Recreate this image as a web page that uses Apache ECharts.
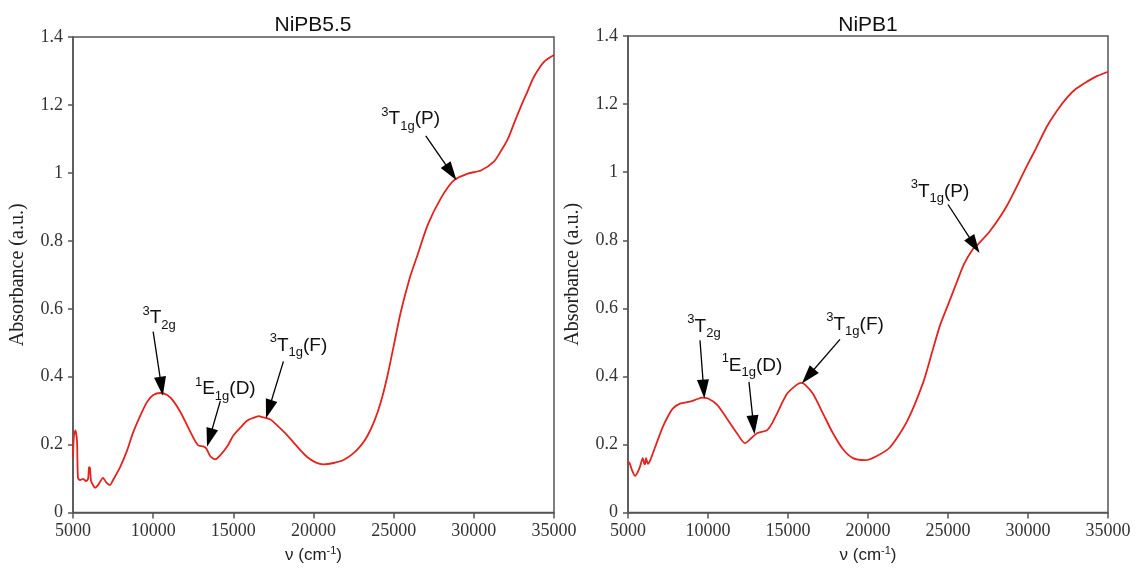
<!DOCTYPE html>
<html>
<head>
<meta charset="utf-8">
<script src="https://cdn.jsdelivr.net/npm/echarts@6/dist/echarts.min.js"></script>
<style>
  html, body { margin: 0; background: #fff; }
  #chart { width: 1136px; height: 569px; }
</style>
</head>
<body>
<div id="chart"></div>
<script>
// NiPB5.5 absorption spectrum (wavenumber cm-1, absorbance)
const nipb55X = [5000, 5060, 5150, 5250, 5310, 5440, 5625, 5810, 5940, 6000, 6060, 6125, 6250, 6375, 6560, 6875, 7060, 7310, 7500, 7940, 8375, 8750, 9190, 9625, 10000, 10440, 10875, 11250, 11690, 12125, 12500, 12810, 13125, 13310, 13560, 13875, 14190, 14625, 15000, 15440, 15875, 16375, 16600, 16810, 17310, 17750, 18250, 18750, 19190, 19625, 20125, 20625, 21250, 21875, 22500, 23000, 23375, 23800, 24190, 24600, 25000, 25440, 26000, 26500, 27125, 27940, 28750, 29625, 30440, 31250, 31700, 32125, 32500, 32940, 33350, 33750, 34375, 35000];
const nipb55Y = [0.163, 0.227, 0.242, 0.21, 0.102, 0.096, 0.099, 0.093, 0.099, 0.134, 0.131, 0.093, 0.081, 0.073, 0.081, 0.102, 0.09, 0.081, 0.096, 0.134, 0.183, 0.236, 0.285, 0.326, 0.346, 0.352, 0.346, 0.329, 0.297, 0.256, 0.221, 0.198, 0.195, 0.189, 0.166, 0.157, 0.169, 0.195, 0.227, 0.25, 0.271, 0.281, 0.284, 0.281, 0.274, 0.256, 0.233, 0.207, 0.183, 0.163, 0.148, 0.142, 0.146, 0.155, 0.175, 0.2, 0.227, 0.27, 0.324, 0.4, 0.49, 0.59, 0.69, 0.76, 0.847, 0.925, 0.978, 0.998, 1.007, 1.033, 1.065, 1.1, 1.145, 1.196, 1.24, 1.283, 1.327, 1.347];

// NiPB1 absorption spectrum
const nipb1X = [5000, 5100, 5250, 5440, 5600, 5750, 5920, 6000, 6060, 6125, 6250, 6400, 6560, 6875, 7190, 7500, 7810, 8250, 8875, 9300, 9625, 10000, 10560, 11190, 11810, 12310, 12625, 13060, 13690, 14000, 14310, 14940, 15560, 15810, 16060, 16560, 17190, 17810, 18440, 19060, 19800, 20500, 21375, 22440, 23440, 24000, 24500, 25000, 25560, 26000, 26560, 26810, 27625, 28690, 29940, 30500, 31190, 31800, 32440, 33000, 33690, 34300, 35000];
const nipb1Y = [0.15, 0.145, 0.125, 0.108, 0.118, 0.135, 0.16, 0.146, 0.142, 0.16, 0.143, 0.155, 0.175, 0.215, 0.253, 0.283, 0.306, 0.32, 0.326, 0.333, 0.338, 0.335, 0.317, 0.276, 0.233, 0.204, 0.215, 0.233, 0.242, 0.262, 0.291, 0.349, 0.376, 0.381, 0.376, 0.349, 0.291, 0.233, 0.186, 0.16, 0.154, 0.165, 0.192, 0.268, 0.381, 0.47, 0.55, 0.61, 0.678, 0.73, 0.774, 0.785, 0.827, 0.902, 1.019, 1.07, 1.135, 1.18, 1.219, 1.245, 1.266, 1.282, 1.295];

// band labels: [superscript, letter, subscript, tail]
const bandNames = [['3', 'T', '2g', ''], ['1', 'E', '1g', '(D)'], ['3', 'T', '1g', '(F)'], ['3', 'T', '1g', '(P)']];
// label anchor and arrow [from, tip] in data coordinates
const labels55 = [[10375, 0.573], [14500, 0.364], [19060, 0.492], [26060, 1.158]];
const arrows55 = [[[10000, 0.533], [10560, 0.358]], [[14190, 0.329], [13440, 0.207]], [[18125, 0.445], [17125, 0.291]], [[27000, 1.109], [28750, 0.99]]];
const labels1 = [[9750, 0.547], [12750, 0.431], [19190, 0.553], [24500, 0.943]];
const arrows1 = [[[9500, 0.506], [9750, 0.349]], [[12560, 0.384], [12875, 0.244]], [[18250, 0.509], [16060, 0.39]], [[25000, 0.905], [26810, 0.774]]];

const titles = ['NiPB5.5', 'NiPB1'];

const serif = "'Liberation Serif', 'Times New Roman', serif";
const sans = "'Liberation Sans', Arial, sans-serif";
const axisColor = '#555';
const headSize = [12, 19];

const chart = echarts.init(document.getElementById('chart'));

const bandRich = {
  sup: { fontFamily: sans, fontSize: 13, lineHeight: 12, verticalAlign: 'top', color: '#111' },
  m: { fontFamily: sans, fontSize: 19, lineHeight: 27, verticalAlign: 'middle', color: '#111' },
  sub: { fontFamily: sans, fontSize: 13, lineHeight: 12, verticalAlign: 'bottom', color: '#111' }
};

function bandText(n) {
  let s = '{sup|' + n[0] + '}{m|' + n[1] + '}{sub|' + n[2] + '}';
  if (n[3]) s += '{m|' + n[3] + '}';
  return s;
}

function makeSeries(i, xs, ys, labelPos) {
  return {
    type: 'line',
    xAxisIndex: i,
    yAxisIndex: i,
    data: xs.map((x, k) => [x, ys[k]]),
    showSymbol: false,
    smooth: 0.25,
    lineStyle: { color: '#e3231e', width: 1.8 },
    silent: true,
    markLine: {
      silent: true,
      symbol: ['none', 'triangle'],
      symbolSize: headSize,
      label: { show: false },
      lineStyle: { color: '#000', width: 1.3, type: 'solid' },
      itemStyle: { color: '#000' },
      data: []
    },
    markPoint: {
      silent: true,
      symbol: 'circle',
      symbolSize: 1,
      itemStyle: { color: 'rgba(0,0,0,0)' },
      label: {
        show: true,
        position: 'inside',
        formatter: p => bandText(bandNames[p.dataIndex]),
        rich: bandRich
      },
      data: labelPos.map(c => ({ coord: c }))
    }
  };
}

function xAxisFor(i) {
  return {
    type: 'value',
    gridIndex: i,
    min: 5000,
    max: 35000,
    interval: 5000,
    axisLine: { show: true, onZero: false, lineStyle: { color: axisColor, width: 1.5 } },
    axisTick: { show: true, length: 6, lineStyle: { color: axisColor, width: 1.5 } },
    splitLine: { show: false },
    axisLabel: { color: '#333', fontFamily: serif, fontSize: 18, margin: 10, formatter: v => String(v) },
    name: '{a|\u03bd (cm}{s|-1}{a|)}',
    nameLocation: 'middle',
    nameGap: 28,
    nameTextStyle: {
      rich: {
        a: { fontFamily: sans, fontSize: 17, lineHeight: 20, color: '#222' },
        s: { fontFamily: sans, fontSize: 11, lineHeight: 11, verticalAlign: 'top', color: '#222' }
      }
    }
  };
}

function yAxisFor(i) {
  return {
    type: 'value',
    gridIndex: i,
    min: 0,
    max: 1.4,
    interval: 0.2,
    axisLine: { show: true, onZero: false, lineStyle: { color: axisColor, width: 1.5 } },
    axisTick: { show: true, length: 5, lineStyle: { color: axisColor, width: 1.5 } },
    splitLine: { show: false },
    axisLabel: { color: '#333', fontFamily: serif, fontSize: 18, margin: 10 },
    name: 'Absorbance (a.u.)',
    nameLocation: 'middle',
    nameGap: 45,
    nameTextStyle: { fontFamily: serif, fontSize: 20, color: '#222' }
  };
}

chart.setOption({
  animation: false,
  backgroundColor: '#fff',
  grid: [
    { left: 73, top: 37, width: 481, height: 481, show: true, borderColor: axisColor, borderWidth: 1.5 },
    { left: 628, top: 36, width: 480, height: 481, show: true, borderColor: axisColor, borderWidth: 1.5 }
  ],
  xAxis: [xAxisFor(0), xAxisFor(1)],
  yAxis: [yAxisFor(0), yAxisFor(1)],
  graphic: [
    { type: 'text', x: 313, y: 15, style: { text: titles[0], font: '21px ' + sans, fill: '#111', textAlign: 'center' } },
    { type: 'text', x: 868, y: 15, style: { text: titles[1], font: '21px ' + sans, fill: '#111', textAlign: 'center' } }
  ],
  series: [
    makeSeries(0, nipb55X, nipb55Y, labels55),
    makeSeries(1, nipb1X, nipb1Y, labels1)
  ]
});

// the end symbol sits over the line end, so pull the end back a little so the tip lands on the curve
function arrowData(i, arrows) {
  const finder = { gridIndex: i };
  return arrows.map(a => {
    const p0 = chart.convertToPixel(finder, a[0]);
    const p1 = chart.convertToPixel(finder, a[1]);
    const dx = p1[0] - p0[0], dy = p1[1] - p0[1];
    const len = Math.sqrt(dx * dx + dy * dy);
    const back = headSize[1] / 4;
    const end = [p1[0] - dx / len * back, p1[1] - dy / len * back];
    return [{ coord: a[0] }, { coord: chart.convertFromPixel(finder, end) }];
  });
}

chart.setOption({
  series: [
    { markLine: { data: arrowData(0, arrows55) } },
    { markLine: { data: arrowData(1, arrows1) } }
  ]
});
</script>
</body>
</html>
